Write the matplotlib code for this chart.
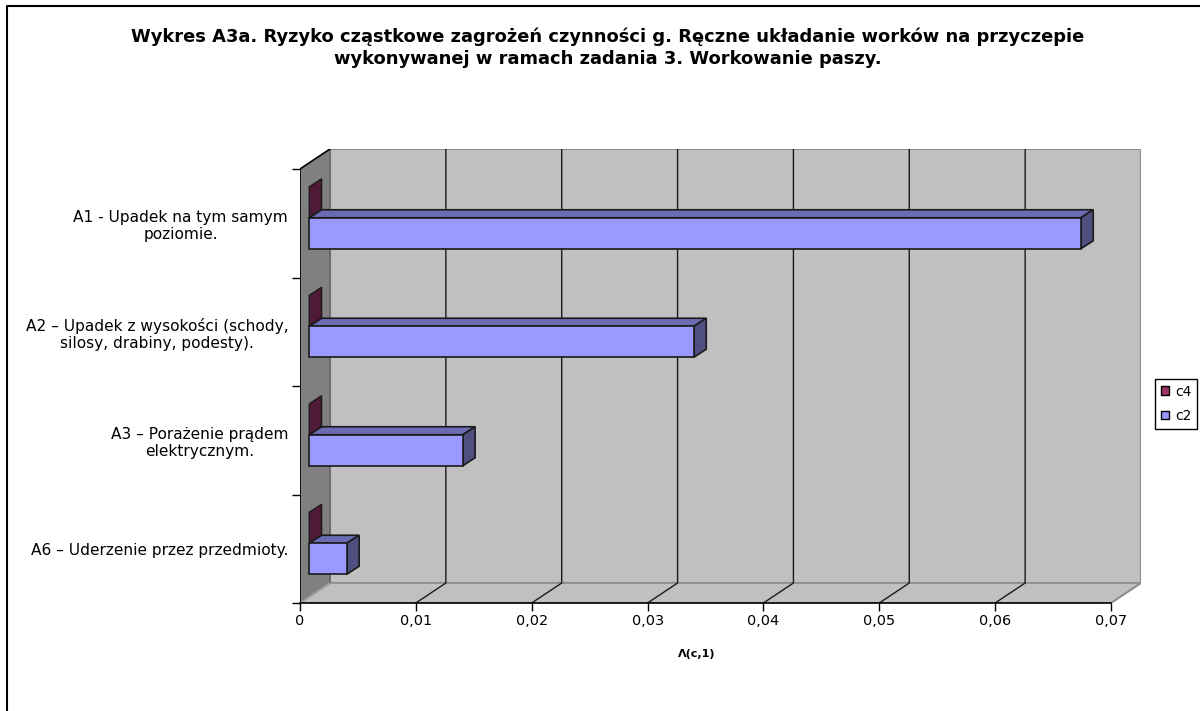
import matplotlib
matplotlib.use("Agg")
import matplotlib.pyplot as plt
from matplotlib.patches import Patch, Polygon

plt.rcParams['font.family'] = ['DejaVu Sans']

title = ("Wykres A3a. Ryzyko cząstkowe zagrożeń czynności g. Ręczne układanie worków na przyczepie\n"
         "wykonywanej w ramach zadania 3. Workowanie paszy.")
categories = ["A1 - Upadek na tym samym\npoziomie.",
              "A2 – Upadek z wysokości (schody,\nsilosy, drabiny, podesty).",
              "A3 – Porażenie prądem\nelektrycznym.",
              "A6 – Uderzenie przez przedmioty."]
c2_values = [0.0666, 0.0332, 0.01325, 0.00324]
c4_values = [0, 0, 0, 0]
x_ticks = [0, 0.01, 0.02, 0.03, 0.04, 0.05, 0.06, 0.07]
x_labels = ["0", "0,01", "0,02", "0,03", "0,04", "0,05", "0,06", "0,07"]
x_title = "Λ(c,1)"

W, H = 1200, 711
fig = plt.figure(figsize=(W / 100, H / 100), dpi=100)

# frame around the chart
frame = fig.add_axes([0, 0, 1, 1], zorder=0)
frame.set_xlim(0, W)
frame.set_ylim(H, 0)
frame.axis("off")
frame.plot([7, 7, W], [H, 6, 6], color="black", lw=1.5)

ax = fig.add_axes([300 / W, 1 - 603 / H, 841 / W, 454 / H], zorder=1)
x_max = 0.07
n = len(categories)
x_unit = x_max / 811   # value per pixel
y_unit = n / 434       # category per pixel
ax.set_xlim(0, 841 * x_unit)
ax.set_ylim(0, 454 * y_unit)
for s in ax.spines.values():
    s.set_visible(False)
ax.patch.set_visible(False)

dx, dy = 30 * x_unit, 20 * y_unit      # depth of the plot box
bx, by = 12.3 * x_unit, 8 * y_unit     # depth of one bar
sx, sy = 9.3 * x_unit, 5.5 * y_unit    # where the bars sit inside the box
bar_h = 31 * y_unit

# walls and floor
ax.add_patch(Polygon([(dx, dy), (x_max + dx, dy), (x_max + dx, n + dy), (dx, n + dy)],
                     fc="#C0C0C0", ec="#8C8C8C", lw=1.5, zorder=1))
ax.add_patch(Polygon([(0, 0), (dx, dy), (dx, n + dy), (0, n)],
                     fc="#808080", ec="none", zorder=1))
ax.add_patch(Polygon([(0, 0), (x_max, 0), (x_max + dx, dy), (dx, dy)],
                     fc="#C0C0C0", ec="#8C8C8C", lw=1.2, zorder=1))
ax.plot([dx, dx], [dy, n + dy], color="#666666", lw=1.2, zorder=2)

for t in x_ticks[1:-1]:
    ax.plot([t, t + dx, t + dx], [0, dy, n + dy], color="#1a1a1a", lw=1, zorder=2)
ax.plot([x_max, x_max + dx], [0, dy], color="#8C8C8C", lw=1.2, zorder=2)
ax.plot([0, dx], [0, dy], color="#A0A0A0", lw=1, zorder=2)
ax.plot([0, 0, dx], [0, n, n + dy], color="black", lw=1.2, zorder=3)
ax.plot([0, x_max], [0, 0], color="black", lw=1.2, zorder=3, clip_on=False)

# bars, bottom category last in the list
for i, (c2, c4) in enumerate(zip(c2_values, c4_values)):
    mid = n - i - 0.5 + sy
    x0 = sx
    # c4, only a side face because the value is 0
    ax.add_patch(Polygon([(x0 + c4, mid), (x0 + c4 + bx, mid + by),
                          (x0 + c4 + bx, mid + bar_h + by), (x0 + c4, mid + bar_h)],
                         fc="#4F1A38", ec="#1a1a1a", lw=1, zorder=4))
    # c2
    ax.barh(mid - bar_h / 2, c2, height=bar_h, left=x0, color="#9999FF",
            edgecolor="#1a1a1a", lw=1.2, zorder=6)
    ax.add_patch(Polygon([(x0, mid), (x0 + bx, mid + by), (x0 + c2 + bx, mid + by), (x0 + c2, mid)],
                         fc="#6B6BB3", ec="#1a1a1a", lw=1.2, zorder=5))
    ax.add_patch(Polygon([(x0 + c2, mid), (x0 + c2 + bx, mid + by),
                          (x0 + c2 + bx, mid - bar_h + by), (x0 + c2, mid - bar_h)],
                         fc="#505080", ec="#1a1a1a", lw=1.2, zorder=5))

# axes ticks and labels
ax.set_xticks(x_ticks, x_labels, fontsize=10.4)
ax.tick_params(axis="x", length=5.5, width=1, pad=2.5, color="black")
ax.set_yticks(range(n + 1), [""] * (n + 1))
ax.tick_params(axis="y", which="major", length=6, width=1, color="black")
ax.set_yticks([n - i - 0.5 for i in range(n)], categories, minor=True,
              fontsize=11.1, ha="right", multialignment="center", linespacing=1.2)
ax.tick_params(axis="y", which="minor", length=0, pad=8.5)

fig.text(697 / W, 1 - 654 / H, x_title, fontsize=8, fontweight="bold", ha="center", va="center")
fig.text(608 / W, 1 - 48 / H, title, fontsize=12.9, fontweight="bold", ha="center", va="center",
         linespacing=1.3)

handles = [Patch(fc="#993366", ec="black", lw=1, label="c4"),
           Patch(fc="#9999FF", ec="black", lw=1, label="c2")]
fig.legend(handles=handles, loc="upper left", bbox_to_anchor=(1155 / W, 1 - 379 / H),
           borderaxespad=0, fontsize=10, fancybox=False, framealpha=1, edgecolor="black",
           handlelength=0.6, handleheight=0.6, handletextpad=0.45, labelspacing=0.75,
           borderpad=0.4, frameon=True)

fig.savefig("out.png", dpi=100)
